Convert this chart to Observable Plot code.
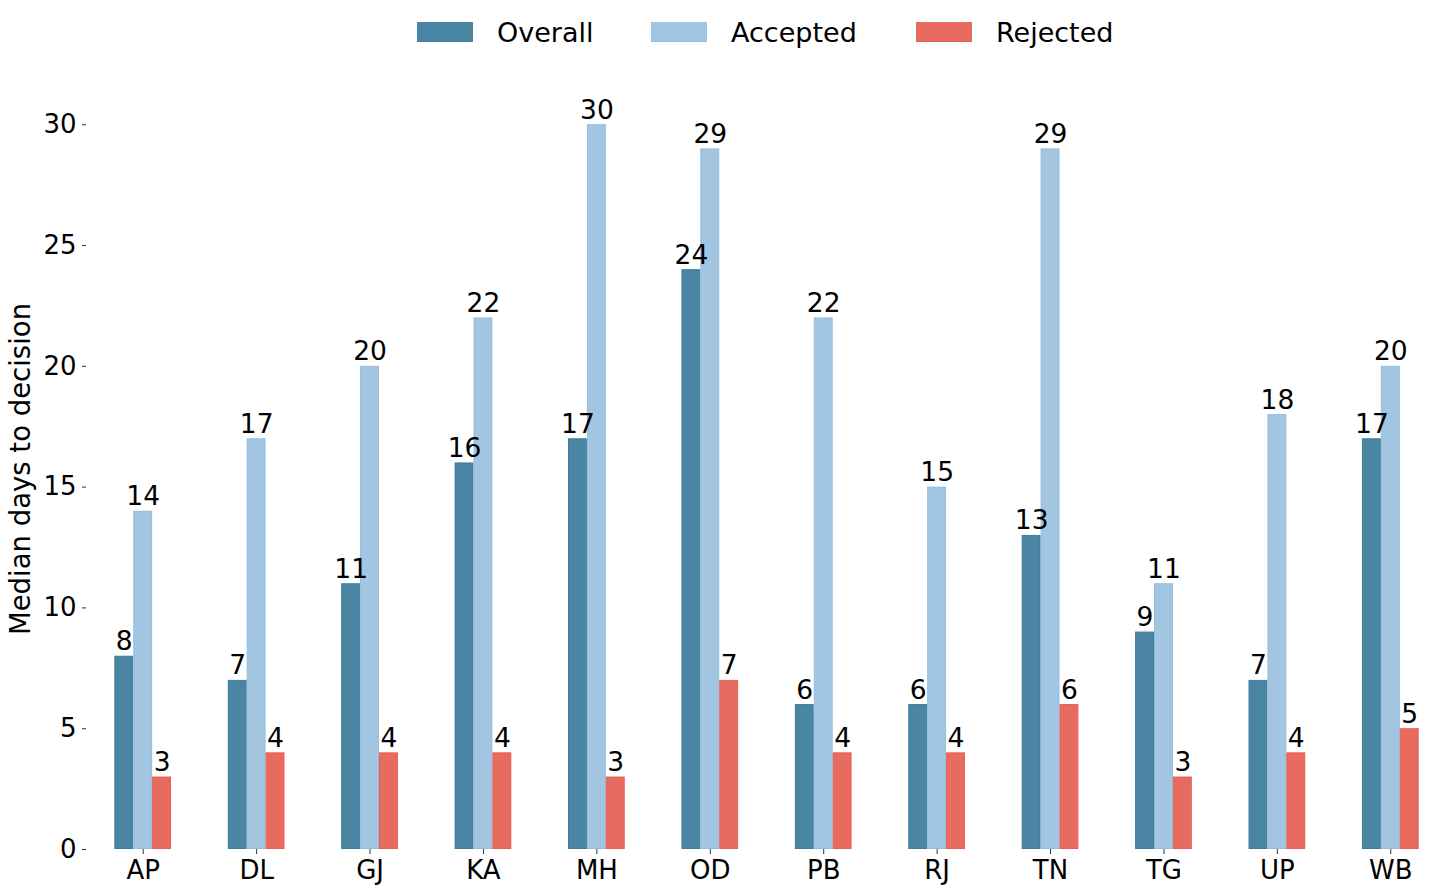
<!DOCTYPE html>
<html>
<head>
<meta charset="utf-8">
<script src="https://cdn.jsdelivr.net/npm/d3@7"></script>
<script src="https://cdn.jsdelivr.net/npm/@observablehq/plot@0.6"></script>
<style>
  html, body { margin: 0; padding: 0; background: #fff; }
  body { width: 1456px; height: 894px; overflow: hidden; font-family: "DejaVu Sans", sans-serif; }
  #legend { height: 64px; position: relative; }
  .item { position: absolute; top: 0; height: 64px; display: flex; align-items: center; font-size: 27px; color: #000; }
  .sw { width: 56px; height: 20px; margin-right: 24px; box-sizing: border-box; }
</style>
</head>
<body>
<div id="legend"></div>
<div id="chart"></div>
<script>
const states = ["AP","DL","GJ","KA","MH","OD","PB","RJ","TN","TG","UP","WB"];
const series = ["Overall","Accepted","Rejected"];
const overall  = [8, 7, 11, 16, 17, 24, 6, 6, 13, 9, 7, 17];
const accepted = [14, 17, 20, 22, 30, 29, 22, 15, 29, 11, 18, 20];
const rejected = [3, 4, 4, 4, 3, 7, 4, 4, 6, 3, 4, 5];
const yTicks = [0, 5, 10, 15, 20, 25, 30];
const colors = ["#4a86a3", "#a2c6e2", "#e86b60"];
const edges  = ["#3f7c99", "#93bddf", "#e55f54"];

const values = [overall, accepted, rejected];
const data = [];
states.forEach((s, i) => series.forEach((k, j) => data.push({state: s, series: k, value: values[j][i]})));

// legend
const legend = document.getElementById("legend");
const legendX = [417, 651, 916];
series.forEach((k, j) => {
  const it = document.createElement("div");
  it.className = "item";
  it.style.left = legendX[j] + "px";
  const sw = document.createElement("div");
  sw.className = "sw";
  sw.style.background = colors[j];
  sw.style.borderBottom = "1px solid " + edges[j];
  it.appendChild(sw);
  const t = document.createElement("span");
  t.textContent = k;
  it.appendChild(t);
  legend.appendChild(it);
});

const chart = Plot.plot({
  width: 1456,
  height: 830,
  marginLeft: 86,
  marginRight: 9,
  marginTop: 24,
  marginBottom: 45,
  style: {fontFamily: "DejaVu Sans, sans-serif", fontSize: "26px", color: "#000", background: "#fff"},
  fx: {domain: states, padding: 0, round: false, label: null},
  x: {domain: series, paddingInner: 0, paddingOuter: 1.5, round: false, axis: null},
  y: {domain: [0, 31.5], label: null},
  color: {domain: series, range: colors},
  marks: [
    Plot.barY(data, {fx: "state", x: "series", y: "value", fill: "series", stroke: d => edges[series.indexOf(d.series)], strokeWidth: 1, inset: 0.5}),
    Plot.text(data, {fx: "state", x: "series", y: "value", text: d => String(d.value), lineAnchor: "bottom", dy: -6, fontSize: 26.5, fill: "#000"}),
    Plot.axisFx({anchor: "bottom", tickSize: 5, tickPadding: 6, fontSize: 26, stroke: "#333", label: null}),
    Plot.axisY({ticks: yTicks, tickSize: 4, tickPadding: 6, fontSize: 26, stroke: "#333", label: null}),
    Plot.axisY({ticks: [], tickSize: 0, fontSize: 27.5, label: "Median days to decision", labelAnchor: "center", labelArrow: "none", labelOffset: 76})
  ]
});
document.getElementById("chart").appendChild(chart);
</script>
</body>
</html>
